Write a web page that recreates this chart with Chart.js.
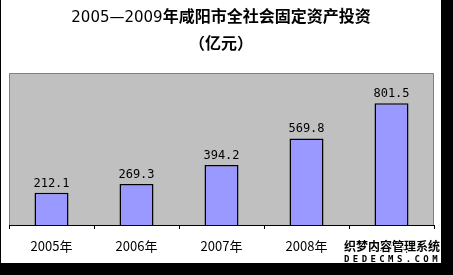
<!DOCTYPE html>
<html>
<head>
<meta charset="utf-8">
<script src="https://cdn.jsdelivr.net/npm/chart.js@4"></script>
<style>
  body { margin: 0; background: #000; width: 453px; height: 275px; overflow: hidden; }
  #frame { position: absolute; left: 1px; top: 0; width: 440px; height: 263px; background: #fff; overflow: hidden; }
  #chart { position: absolute; left: 0; top: 0; }
  .title { position: absolute; left: 0; width: 440px; text-align: center; font-family: "Noto Sans CJK SC"; font-size: 16px; color: #000; line-height: 20px; }
  .title .num { font-weight: normal; font-family: "DejaVu Sans"; font-size: 15px; }
  .title b { font-weight: bold; }
  #mark { position: absolute; left: 343px; top: 240px; font-family: "Noto Sans CJK SC"; font-weight: bold; color: #000; line-height: 1; text-shadow: 1px 1px 0 #fff, -1px -1px 0 #fff, 1px -1px 0 #fff, -1px 1px 0 #fff; }
</style>
</head>
<body>
<div id="frame">
  <canvas id="chart" width="440" height="263"></canvas>
  <div class="title" style="top:5px"><span class="num">2005—2009</span><b>年咸阳市全社会固定资产投资</b></div>
  <div class="title" style="top:32px"><b>（亿元）</b></div>
  <div id="mark"><div style="font-size:12px">织梦内容管理系统</div><div style="font-size:9px;letter-spacing:3.4px;font-family:'DejaVu Sans Mono';margin-top:3px">DEDECMS.COM</div></div>
</div>
<script>
// 数据
const years = ['2005年', '2006年', '2007年', '2008年', '2009年'];
const investment = [212.1, 269.3, 394.2, 569.8, 801.5];
const yMax = 1000;

// 绘图区背景和边框
const plotBox = {
  id: 'plotBox',
  beforeDatasetsDraw(chart) {
    const { ctx, chartArea: a } = chart;
    ctx.save();
    ctx.fillStyle = '#c0c0c0';
    ctx.fillRect(a.left, a.top, a.right - a.left, a.bottom - a.top);
    ctx.strokeStyle = '#808080';
    ctx.lineWidth = 1;
    ctx.beginPath();
    ctx.moveTo(a.left + 0.5, a.bottom);
    ctx.lineTo(a.left + 0.5, a.top + 0.5);
    ctx.lineTo(a.right - 0.5, a.top + 0.5);
    ctx.lineTo(a.right - 0.5, a.bottom);
    ctx.stroke();
    ctx.restore();
  }
};

// 柱顶数值
const valueLabels = {
  id: 'valueLabels',
  afterDatasetsDraw(chart) {
    const { ctx } = chart;
    const meta = chart.getDatasetMeta(0);
    ctx.save();
    ctx.font = '12px "DejaVu Sans Mono"';
    ctx.fillStyle = '#000';
    ctx.textAlign = 'center';
    ctx.textBaseline = 'alphabetic';
    meta.data.forEach((bar, i) => {
      ctx.fillText(investment[i].toFixed(1), bar.x, bar.y - 6);
    });
    ctx.restore();
  }
};

new Chart(document.getElementById('chart'), {
  type: 'bar',
  data: {
    labels: years,
    datasets: [{
      data: investment,
      backgroundColor: '#9999ff',
      borderColor: '#000',
      borderWidth: 1.5,
      categoryPercentage: 1,
      barPercentage: 0.4
    }]
  },
  options: {
    responsive: false,
    animation: false,
    events: [],
    layout: { padding: { left: 8, top: 73, right: 7, bottom: 0 } },
    plugins: { legend: { display: false }, tooltip: { enabled: false } },
    scales: {
      x: {
        afterFit(scale) { scale.height = 38; },
        grid: { offset: true, drawOnChartArea: false, color: '#000', tickLength: 4 },
        border: { color: '#000', width: 1 },
        ticks: { color: '#000', padding: 9, font: { family: '"Noto Sans CJK SC"', size: 13 } }
      },
      y: {
        display: false,
        min: 0,
        max: yMax
      }
    }
  },
  plugins: [plotBox, valueLabels]
});
</script>
</body>
</html>
